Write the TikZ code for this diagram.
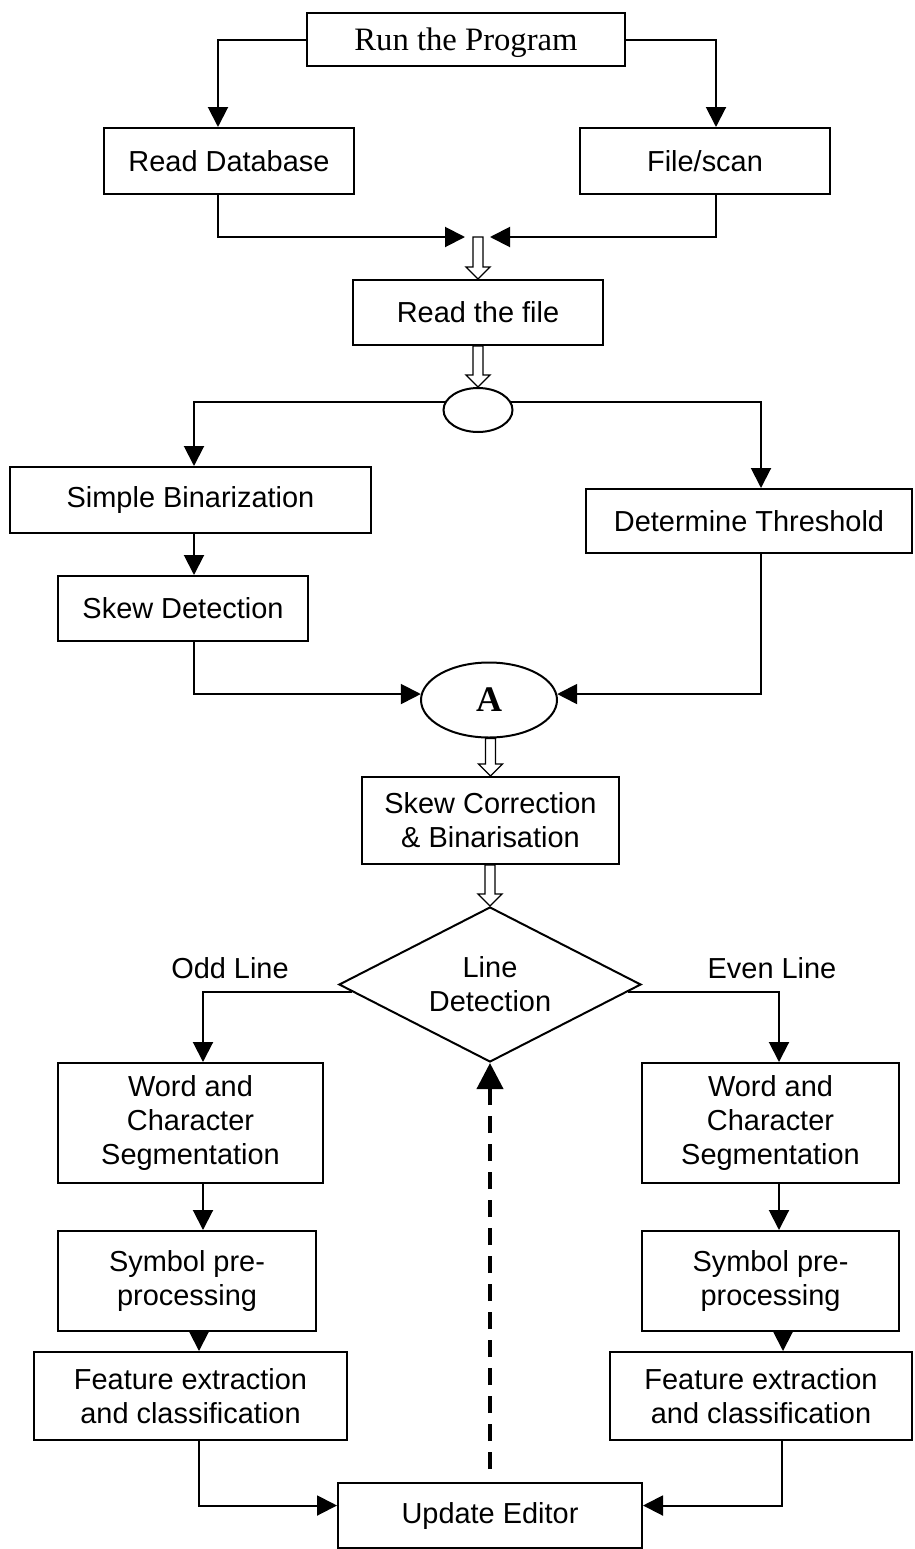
\documentclass[tikz,border=0pt]{standalone}
\usepackage{fontspec}
\setmainfont{Liberation Sans}
\newfontfamily\timesfont{Liberation Serif}
\usetikzlibrary{arrows.meta,shapes.geometric,calc}

\tikzset{
  every node/.style={font=\fontsize{21.7}{25.5}\selectfont},
  box/.style 2 args={draw, line width=1.5pt, rectangle, inner sep=0pt, align=center,
    minimum width=#1*0.75pt, minimum height=#2*0.75pt},
  oval/.style 2 args={draw, line width=1.5pt, ellipse, inner sep=0pt,
    minimum width=#1*0.75pt, minimum height=#2*0.75pt},
  decision/.style={draw, line width=1.5pt, diamond, aspect=1.95, inner sep=0pt, align=center,
    minimum width=302*0.75pt, minimum height=155*0.75pt},
  arr/.style={line width=1.5pt, -{Triangle[length=15pt,width=15pt]}},
  dasharr/.style={line width=3pt, dash pattern=on 12.75pt off 8.25pt,
    -{Triangle[length=19.5pt,width=19.5pt]}},
  hollowarr/.style={draw, fill=white, line width=1pt, line join=miter},
}

% hollow block arrow, straight down from #1 to the tip #2
\newcommand{\hollowarrow}[2]{%
  \draw[hollowarr] ($(#2 |- #1)+(-5,0)$) -- ($(#2)+(-5,-12)$) -- ($(#2)+(-12,-12)$) -- (#2)
    -- ($(#2)+(12,-12)$) -- ($(#2)+(5,-12)$) -- ($(#2 |- #1)+(5,0)$) -- cycle;}

\begin{document}
\begin{tikzpicture}[x=0.75pt,y=0.75pt,yscale=-1,xscale=1]
\useasboundingbox (0,0) rectangle (914,1549);

%Shape: Rectangle [run]
\node[box={318}{53}, text depth=0pt, font=\fontsize{24.5}{27}\timesfont] (run) at (466,39.5) {Run the Program};
%Shape: Rectangle [read database / file scan]
\node[box={250}{66}] (rdb) at (229,161) {Read Database};
\node[box={250}{66}] (fscan) at (705,161) {File/scan};
\coordinate (joinL) at (465,237);
\coordinate (join) at (478,237);
\coordinate (joinR) at (490,237);
\node[box={250}{65}] (rfile) at (478,312.5) {Read the file};
%Shape: Ellipse [split]
\node[oval={69}{44}] (e1) at (478,410) {};
\node[box={361}{66}] (sbin) at (190.5,500) {Simple Binarization};
\node[box={326}{64}] (dthr) at (749,521) {Determine Threshold};
\node[box={250}{65}] (sdet) at (183,608.5) {Skew Detection};
%Shape: Ellipse [A]
\node[oval={136}{75}, font=\fontsize{27}{30}\timesfont\bfseries] (nA) at (489,700) {A};
\node[box={257}{87}] (scor) at (490.5,820.5) {Skew Correction\\\& Binarisation};
%Shape: Diamond
\node[decision] (ld) at (490,984.5) {Line\\Detection};
% Text Node
\node (odd) at (230,968) {Odd Line};
% Text Node
\node (even) at (772,968) {Even Line};
%Shape: Rectangle [odd line branch]
\node[box={265}{120}] (wcsL) at (190.5,1123) {Word and\\Character\\Segmentation};
\node[box={258}{100}] (symL) at (187,1281) {Symbol pre-\\processing};
\node[box={313}{88}] (featL) at (190.5,1396) {Feature extraction\\and classification};
%Shape: Rectangle [even line branch]
\node[box={257}{120}] (wcsR) at (770.5,1123) {Word and\\Character\\Segmentation};
\node[box={257}{100}] (symR) at (770.5,1281) {Symbol pre-\\processing};
\node[box={302}{88}] (featR) at (761,1396) {Feature extraction\\and classification};
\node[box={304}{65}] (upd) at (490,1515.5) {Update Editor};

%Straight Lines
\draw[arr] (run.west) -| ($(rdb.north)+(-11,0)$);
\draw[arr] (run.east) -| ($(fscan.north)+(11,0)$);
\draw[arr] ($(rdb.south)+(-11,0)$) |- (joinL);
\draw[arr] ($(fscan.south)+(11,0)$) |- (joinR);
\hollowarrow{join}{rfile.north}
\hollowarrow{rfile.south}{e1.north}
\draw[arr] (e1.166) -| ($(sbin.north)+(3.5,0)$);
\draw[arr] (e1.14) -| ($(dthr.north)+(12,0)$);
\draw[arr] ($(sbin.south)+(3.5,0)$) -- ($(sdet.north)+(11,0)$);
\draw[arr] ($(sdet.south)+(11,0)$) |- (nA.175);
\draw[arr] ($(dthr.south)+(12,0)$) |- (nA.5);
\hollowarrow{nA.south}{scor.north}
\hollowarrow{scor.south}{ld.north}
\draw[arr] (ld.183) -| ($(wcsL.north)+(12.5,0)$);
\draw[arr] (ld.357) -| ($(wcsR.north)+(8.5,0)$);
\draw[arr] ($(wcsL.south)+(12.5,0)$) -- ($(symL.north)+(16,0)$);
\draw[arr] ($(wcsR.south)+(8.5,0)$) -- ($(symR.north)+(8.5,0)$);
\draw[arr] ($(symL.south)+(12,0)$) -- ($(featL.north)+(8.5,0)$);
\draw[arr] ($(symR.south)+(12.5,0)$) -- ($(featR.north)+(22,0)$);
\draw[arr] ($(featL.south)+(8.5,0)$) |- ($(upd.west)+(0,-10)$);
\draw[arr] ($(featR.south)+(21,0)$) |- ($(upd.east)+(0,-10)$);
%Dashed Line
\draw[dasharr] ($(upd.north)+(0,-13)$) -- (ld.south);

\end{tikzpicture}
\end{document}
